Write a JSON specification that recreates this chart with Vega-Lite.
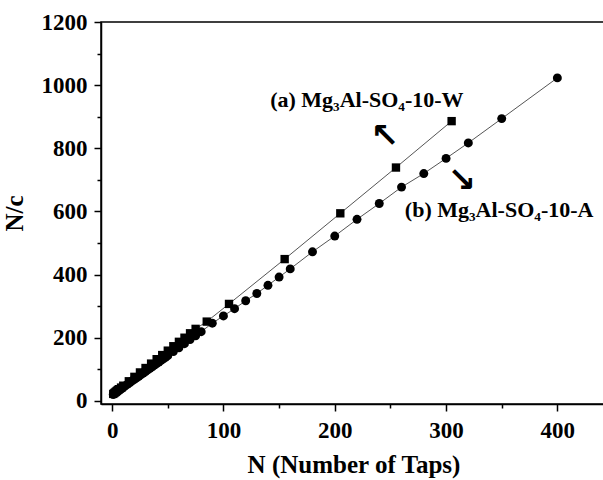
{
  "$schema": "https://vega.github.io/schema/vega-lite/v6.json",
  "autosize": "none",
  "width": 505,
  "height": 382,
  "padding": {"left": 101, "top": 22, "right": 0, "bottom": 76},
  "background": "white",
  "config": {
    "view": {"stroke": "black", "strokeWidth": 1.5},
    "font": "Liberation Serif",
    "axis": {
      "labelFont": "Liberation Serif", "labelFontWeight": "bold", "labelFontSize": 23, "labelColor": "black",
      "titleFont": "Liberation Serif", "titleFontWeight": "bold", "titleFontSize": 25, "titleColor": "black",
      "domainColor": "black", "domainWidth": 1.5, "tickColor": "black", "tickWidth": 1.5, "grid": false
    }
  },
  "datasets": {
    "a": [
      {"N": 1, "v": 22}, {"N": 2, "v": 25}, {"N": 3, "v": 28}, {"N": 4, "v": 31}, {"N": 5, "v": 34},
      {"N": 6, "v": 37}, {"N": 8, "v": 42}, {"N": 10, "v": 48}, {"N": 15, "v": 62}, {"N": 20, "v": 76},
      {"N": 25, "v": 90}, {"N": 30, "v": 104}, {"N": 35, "v": 118}, {"N": 40, "v": 132}, {"N": 45, "v": 145},
      {"N": 50, "v": 159}, {"N": 55, "v": 173}, {"N": 60, "v": 187}, {"N": 65, "v": 200}, {"N": 70, "v": 214},
      {"N": 75, "v": 228}, {"N": 85, "v": 251}, {"N": 105, "v": 307}, {"N": 155, "v": 449}, {"N": 205, "v": 594},
      {"N": 255, "v": 739}, {"N": 305, "v": 886}
    ],
    "b": [
      {"N": 1, "v": 20}, {"N": 2, "v": 23}, {"N": 3, "v": 25}, {"N": 4, "v": 28}, {"N": 5, "v": 30},
      {"N": 6, "v": 33}, {"N": 7, "v": 35}, {"N": 8, "v": 38}, {"N": 9, "v": 40}, {"N": 10, "v": 43},
      {"N": 12, "v": 48}, {"N": 14, "v": 53}, {"N": 16, "v": 58}, {"N": 18, "v": 63}, {"N": 20, "v": 68},
      {"N": 22, "v": 73}, {"N": 24, "v": 78}, {"N": 26, "v": 83}, {"N": 28, "v": 88}, {"N": 30, "v": 93},
      {"N": 32, "v": 98}, {"N": 34, "v": 103}, {"N": 36, "v": 108}, {"N": 38, "v": 113}, {"N": 40, "v": 118},
      {"N": 42, "v": 123}, {"N": 44, "v": 128}, {"N": 46, "v": 133}, {"N": 48, "v": 138}, {"N": 50, "v": 143},
      {"N": 55, "v": 156}, {"N": 60, "v": 168}, {"N": 65, "v": 181}, {"N": 70, "v": 194}, {"N": 75, "v": 206},
      {"N": 80, "v": 219}, {"N": 90, "v": 246}, {"N": 100, "v": 269}, {"N": 110, "v": 292}, {"N": 120, "v": 317},
      {"N": 130, "v": 340}, {"N": 140, "v": 366}, {"N": 150, "v": 392}, {"N": 160, "v": 418}, {"N": 180, "v": 472},
      {"N": 200, "v": 522}, {"N": 220, "v": 575}, {"N": 240, "v": 625}, {"N": 260, "v": 677}, {"N": 280, "v": 720},
      {"N": 300, "v": 768}, {"N": 320, "v": 817}, {"N": 350, "v": 894}, {"N": 400, "v": 1023}
    ],
    "labels": [
      {"N": 142, "v": 930, "t": "(a) Mg₃Al-SO₄-10-W"},
      {"N": 263, "v": 583, "t": "(b) Mg₃Al-SO₄-10-A"}
    ],
    "arrows": [
      {"N": 245, "v": 835, "t": "↖"},
      {"N": 314, "v": 695, "t": "↘"}
    ]
  },
  "encoding": {
    "x": {
      "field": "N", "type": "quantitative",
      "scale": {"domain": [-10, 443.7], "nice": false, "zero": false},
      "axis": {
        "title": "N (Number of Taps)", "titlePadding": 10,
        "values": [0, 50, 100, 150, 200, 250, 300, 350, 400],
        "labelExpr": "datum.value % 100 === 0 ? datum.label : ''",
        "tickSize": {"condition": {"test": "datum.value % 100 === 0", "value": 7}, "value": 4},
        "labelPadding": 8, "format": "d"
      }
    },
    "y": {
      "field": "v", "type": "quantitative",
      "scale": {"domain": [-10, 1200], "nice": false, "zero": false},
      "axis": {
        "title": "N/c", "titlePadding": 14,
        "values": [0, 100, 200, 300, 400, 500, 600, 700, 800, 900, 1000, 1100, 1200],
        "labelExpr": "datum.value % 200 === 0 ? datum.label : ''",
        "tickSize": {"condition": {"test": "datum.value % 200 === 0", "value": 7}, "value": 4},
        "labelPadding": 7, "format": "d"
      }
    }
  },
  "layer": [
    {"data": {"name": "a"}, "mark": {"type": "line", "color": "#555555", "strokeWidth": 1}},
    {"data": {"name": "b"}, "mark": {"type": "line", "color": "#555555", "strokeWidth": 1}},
    {"data": {"name": "a"}, "mark": {"type": "point", "shape": "square", "filled": true, "color": "black", "size": 70, "opacity": 1}},
    {"data": {"name": "b"}, "mark": {"type": "point", "shape": "circle", "filled": true, "color": "black", "size": 80, "opacity": 1}},
    {"data": {"name": "labels"}, "mark": {"type": "text", "align": "left", "baseline": "alphabetic", "font": "Liberation Serif", "fontWeight": "bold", "fontSize": 22, "color": "black"}, "encoding": {"text": {"field": "t"}}},
    {"data": {"name": "arrows"}, "mark": {"type": "text", "align": "center", "baseline": "middle", "font": "DejaVu Sans", "fontWeight": "bold", "fontSize": 34, "color": "black"}, "encoding": {"text": {"field": "t"}}}
  ]
}
